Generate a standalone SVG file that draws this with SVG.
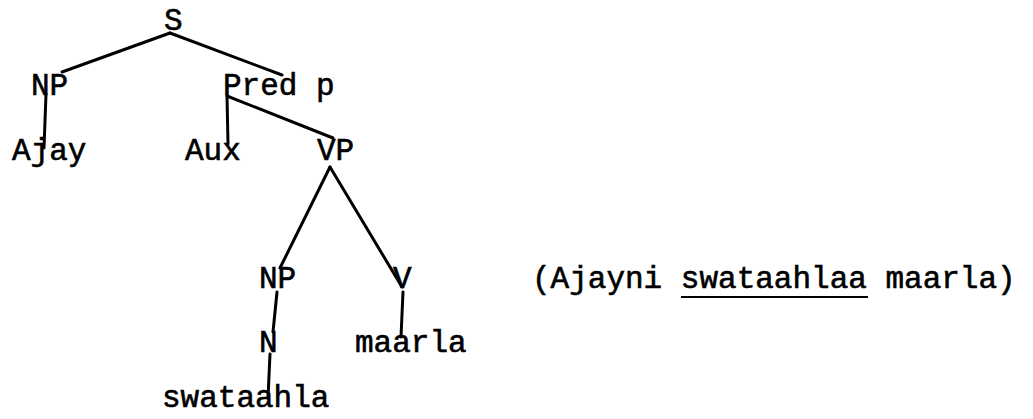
<svg xmlns="http://www.w3.org/2000/svg" width="1033" height="419" viewBox="0 0 1033 419">
  <style>
    .lbl { font-family: "Liberation Mono", "Courier New", monospace; font-size: 31px; fill: #000; stroke: #000; stroke-width: 0.6px; }
    .edge { stroke: #000; stroke-width: 3; stroke-linecap: round; fill: none; }
  </style>
  <rect width="1033" height="419" fill="#fff"/>

  <!-- tree branches -->
  <g id="connectors">
    <line class="edge" x1="170" y1="33" x2="62" y2="72"/>
    <line class="edge" x1="170" y1="33" x2="282" y2="75"/>
    <line class="edge" x1="46" y1="94" x2="44" y2="148"/>
    <line class="edge" x1="227" y1="96" x2="228" y2="144"/>
    <line class="edge" x1="227" y1="96" x2="333" y2="138"/>
    <line class="edge" x1="330" y1="167" x2="280" y2="268"/>
    <line class="edge" x1="330" y1="167" x2="402" y2="287"/>
    <line class="edge" x1="277" y1="292" x2="273" y2="332"/>
    <line class="edge" x1="270" y1="354" x2="268" y2="398"/>
    <line class="edge" x1="403" y1="292" x2="401" y2="337"/>
  </g>

  <!-- tree nodes -->
  <g id="node-S"><text class="lbl" x="164" y="30">S</text></g>
  <g id="node-NP-subj"><text class="lbl" x="31" y="95">NP</text></g>
  <g id="node-PredP"><text class="lbl" x="223" y="95">Pred p</text></g>
  <g id="node-Ajay"><text class="lbl" x="12" y="160">Ajay</text></g>
  <g id="node-Aux"><text class="lbl" x="185" y="160">Aux</text></g>
  <g id="node-VP"><text class="lbl" x="317" y="160">VP</text></g>
  <g id="node-NP-obj"><text class="lbl" x="259" y="288">NP</text></g>
  <g id="node-V"><text class="lbl" x="393" y="288">V</text></g>
  <g id="node-N"><text class="lbl" x="259" y="352">N</text></g>
  <g id="node-maarla"><text class="lbl" x="355" y="352">maarla</text></g>
  <g id="node-swataahla"><text class="lbl" x="162" y="407">swataahla</text></g>

  <!-- gloss with underlined object noun -->
  <g id="gloss">
    <text class="lbl" x="532" y="288">(Ajayni swataahlaa maarla)</text>
    <line x1="681" y1="297" x2="868" y2="297" stroke="#000" stroke-width="2"/>
  </g>
</svg>
